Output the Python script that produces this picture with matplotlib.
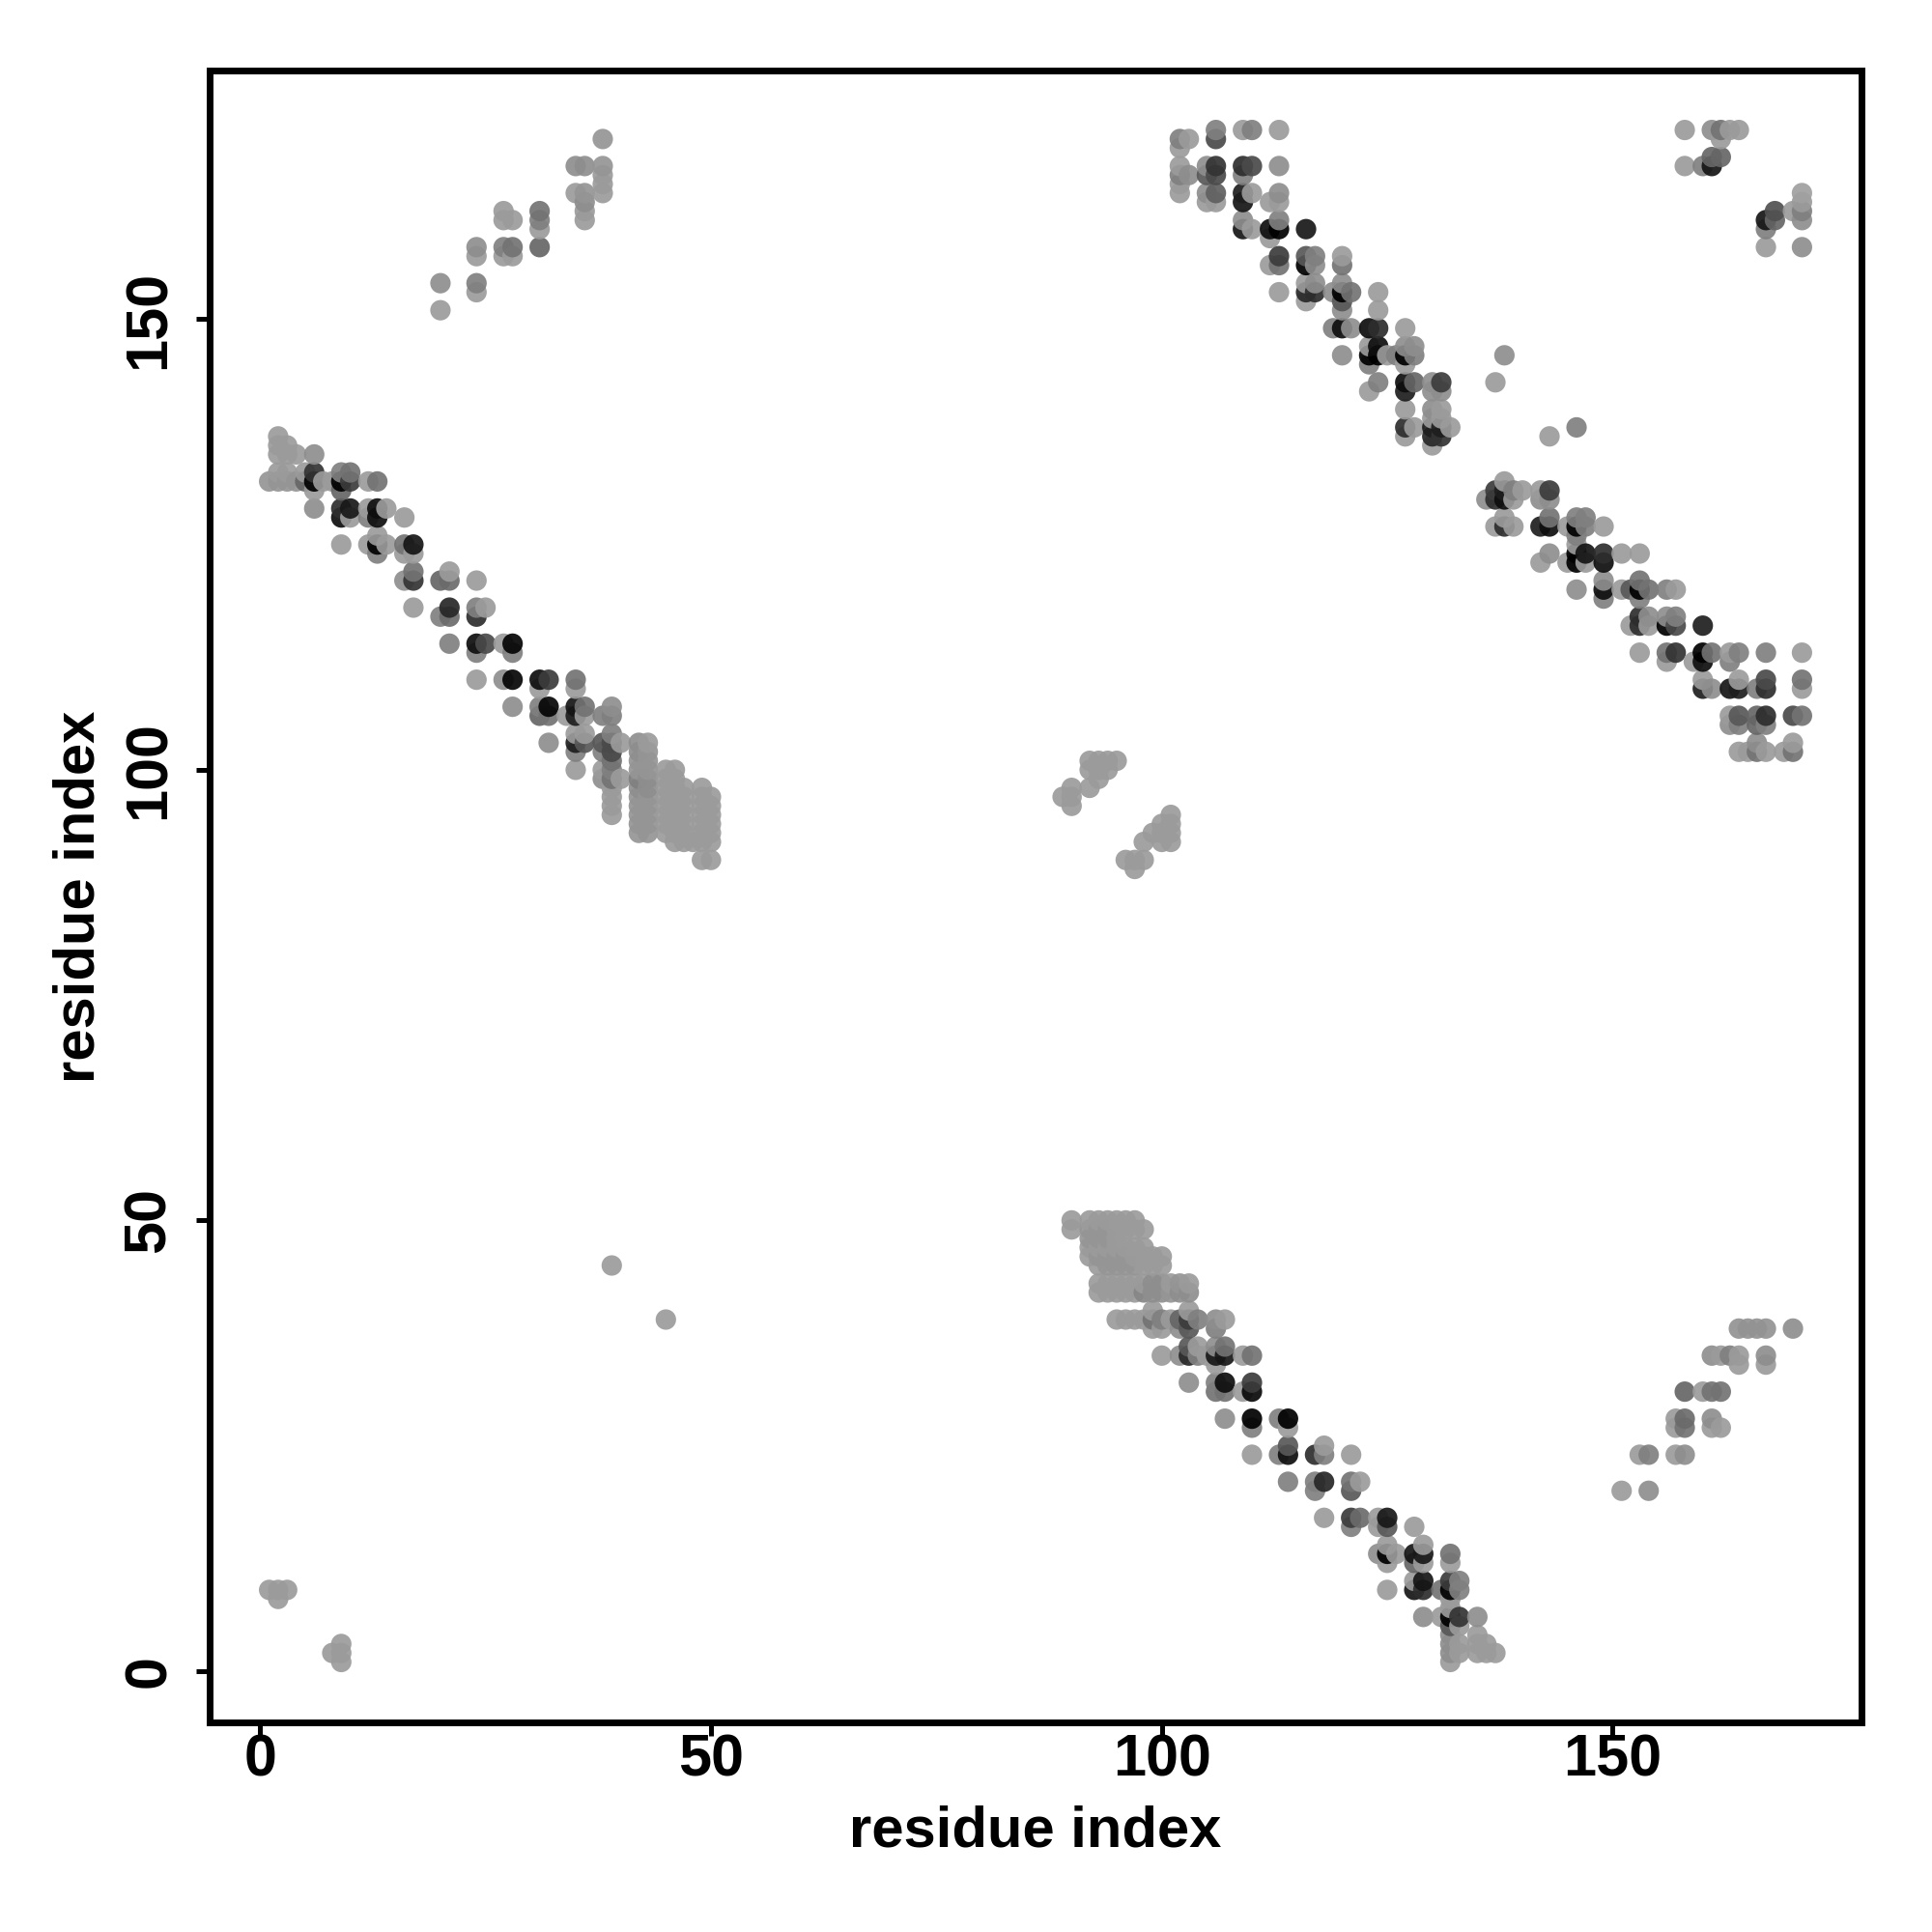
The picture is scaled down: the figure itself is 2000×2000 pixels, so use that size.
import numpy as np
import matplotlib
matplotlib.use("Agg")
import matplotlib.pyplot as plt

# each region: residue y of a row, residues x in that row, grey level of each contact
upper_left_y = [137,136,135,133,132,131,129,128,126,125,124,122,121,118,117,114,113,110,109,107,106,104,103,102,101,100,99,98,97,96,95,94,93,92,90]
upper_left_x = [
 [2],[2,3],[2,3,4,6],[2,3,5,6,9,10],[1,2,3,4,5,6,7,8,9,10,12,13],[6,9],[6,9,10,12,13,14],[9,10,12,13,16],[13],
 [9,12,13,14,16,17],[13,16,17],[17,21],[16,17,20,21,24],[17,21,24,25],[20,21,24],[21,24,25,27,28],[24,28],
 [24,27,28,31,32,35],[31,35],[28,31,32,35,36,39],[31,32,34,35,36,38,39],[35,36,39],[32,35,36,38,39,40,42,43],
 [35,38,39,42,43],[39,42,43],[35,38,39,42,43,45,46],[38,39,40,42,43,45,46],[39,42,43,45,46,47,49],
 [39,42,43,45,46,47,49,50],[39,42,43,45,46,47,49,50],[39,42,43,45,46,47,49,50],[42,43,45,46,47,49,50],
 [42,43,45,46,47,49,50],[46,47,48,49,50],[49,50]]
upper_left_g = [
 [.6],[.6,.6],[.6,.6,.6,.55],[.6,.6,.6,.22,.5,.45],[.58,.58,.58,.58,.4,.05,.6,.6,.03,.25,.6,.45],[.6,.4],
 [.55,.2,.13,.6,.1,.6],[.1,.6,.5,.1,.6],[.6],[.6,.6,.03,.6,.45,.12],[.5,.6,.6],[.45,.6],[.55,.22,.4,.42,.6],
 [.6,.18,.5,.6],[.5,.42,.2],[.5,.1,.3,.6,.07],[.5,.5],[.6,.55,.07,.1,.25,.45],[.6,.6],[.55,.5,.07,.12,.45,.55],
 [.4,.45,.6,.15,.6,.5,.5],[.6,.6,.5],[.55,.15,.35,.35,.3,.6,.55,.6],[.5,.5,.3,.55,.58],[.45,.58,.58],
 [.6,.6,.5,.58,.58,.6,.6],[.55,.45,.6,.5,.55,.6,.6],[.6,.55,.55,.6,.6,.6,.6],[.6,.58,.58,.6,.6,.6,.6,.6],
 [.6,.58,.58,.6,.6,.6,.6,.6],[.6,.58,.58,.6,.6,.6,.6,.6],[.58,.58,.6,.6,.6,.6,.6],[.58,.58,.6,.6,.6,.6,.6],
 [.6,.6,.6,.6,.6],[.6,.6]]

top_y = [171,170,169,167,166,165,164,163,161,160,159,157,156,154,153,152,151,149,147,146,145,143,142,140,139,138,137,136]
top_x = [
 [106,109,110,113],[102,103,106],[102],[102,105,106,109,110,113],[102,103,105,106,109],[102],[102,105,106,109,110,113],
 [105,106,109,112,113],[109,113],[109,110,112,113,116],[112],[113,116,117,120],[112,113,116,117,120],[116,117,120],
 [113,116,117,119,120,121,124],[116,120],[120,124],[119,120,121,123,124,127],[123,124,127,128],
 [120,123,124,125,126,127,128],[123,127],[124,127,128,130,131],[123,127,130,131],[127,130,131],[130,131],
 [127,128,130,131,132],[127,130,131],[130]]
top_g = [
 [.5,.6,.5,.6],[.5,.6,.3],[.6],[.6,.55,.22,.2,.3,.55],[.5,.55,.35,.3,.5],[.6],[.6,.55,.38,.15,.6,.55],
 [.6,.6,.12,.6,.6],[.55,.5],[.12,.6,.1,.02,.13],[.6],[.25,.35,.5,.6],[.6,.45,.05,.55,.45],[.6,.55,.55],
 [.6,.18,.2,.55,.02,.45,.6],[.6,.35],[.55,.6],[.5,.1,.55,.1,.2,.6],[.6,.1,.55,.55],[.55,.02,.05,.6,.5,.02,.5],
 [.5,.6],[.5,.1,.4,.55,.25],[.6,.15,.55,.55],[.6,.55,.6],[.6,.6],[.2,.6,.15,.15,.6],[.6,.18,.22],[.6]]

right_y = [146,143,138,137,132,131,130,128,127,126,125,124,123,121,120,119,117,116,113,112,110,109,106,105,103,102]
right_x = [
 [138],[137],[146],[143],[138],[137,138,139,140,142,143],[136,137,138,139,142,143],[138,143,146,147],
 [137,138,139,142,143,145,146,147,149],[146],[146],[143,146,147,149,151,153],[142,145,146,147,149],[149,153],
 [146,149,151,152,153,154,156,157],[149,153],[153,154,156,157],[152,153,154,156,157,160],
 [153,156,157,160,161,163,164,167,171],[156,159,160,163],[160,164,167,171],[160,161,163,164,166,167,171],
 [163,164,166,167,170,171],[163,164,166,167],[166,170],[164,165,166,167,169,170]]
right_g = [
 [.55],[.6],[.5],[.6],[.6],[.25,.15,.5,.6,.6,.25],[.55,.2,.1,.6,.55,.55],[.6,.45,.5,.5],
 [.6,.2,.6,.15,.1,.6,.02,.5,.6],[.5],[.6],[.55,.03,.12,.2,.6,.6],[.6,.6,.02,.6,.1],[.55,.45],
 [.55,.1,.6,.35,.02,.45,.5,.6],[.5,.5],[.2,.55,.55,.5],[.6,.2,.6,.05,.3,.15],
 [.6,.45,.22,.02,.45,.6,.5,.5,.6],[.6,.6,.1,.5],[.6,.6,.3,.45],[.15,.55,.12,.15,.5,.2,.6],
 [.6,.35,.4,.2,.3,.45],[.55,.5,.4,.5],[.55,.6],[.6,.6,.45,.6,.6,.45]]

lower_y = [50,49,48,47,46,45,43,42,40,39,38,36,35,34,32,31,28,27,25,24,21,20,17,16,14,13,12,10,9,8,7,6,5,4,3,2,1]
lower_x = [
 [90,92,93,94,95,96,97],[90,92,93,94,95,96,97,98],[92,93,94,95],[92,93,94,95,96,97,98],
 [92,93,94,95,96,97,98,99,100],[93,94,95,96,97,98,99,100],[93,94,95,96,97,98,99,100,101,102,103],
 [93,94,95,96,97,98,99,100,101,102,103],[99,103],[95,96,97,98,99,100,101,102,103,104,106,107],[99,100,102,103,106],
 [103,104,106,107],[100,102,103,104,105,106,107,109,110],[106],[103,106,107,110],[106,107,109,110],[107,110,113,114],
 [110,114],[114,118],[110,113,114,117,118,121],[114,117,118,121,122],[117,121],[118,121,122,124,125],[121,124,125,128],
 [125,129],[124,125,126,128,129,132],[125,128,129,132],[128,129,132,133],[125,128,129,131,132,133],[132],[132],
 [129,131,132,133,135],[132,133],[132,135],[132,133,135,136],[132,133,135,136,137],[132]]
lower_g = [
 [.6,.6,.6,.6,.6,.6,.6],[.6,.58,.58,.58,.6,.6,.6,.6],[.58,.58,.58,.6],[.6,.6,.6,.6,.6,.6,.6],
 [.6,.58,.58,.58,.58,.6,.6,.6,.6],[.6,.58,.58,.58,.58,.6,.6,.6],[.6,.6,.6,.6,.6,.6,.55,.55,.6,.58,.6],
 [.6,.6,.6,.6,.6,.52,.55,.55,.58,.55,.55],[.6,.6],[.6,.6,.6,.6,.45,.5,.6,.4,.25,.5,.55,.6],[.6,.6,.55,.35,.5],
 [.35,.6,.55,.45],[.6,.55,.18,.5,.6,.13,.13,.6,.45],[.6],[.55,.5,.1,.25],[.45,.45,.6,.08],[.55,.05,.5,.05],[.5,.6],
 [.35,.6],[.6,.5,.1,.2,.5,.6],[.5,.5,.18,.45,.6],[.5,.35],[.6,.25,.42,.6,.13],[.5,.6,.35,.6],[.6,.6],
 [.55,.05,.6,.12,.13,.45],[.6,.4,.6,.6],[.6,.12,.25,.5],[.6,.12,.2,.45,.03,.5],[.6],[.6],[.55,.6,.05,.22,.55],[.35,.6],
 [.55,.6],[.55,.6,.6,.6],[.55,.6,.6,.6,.6],[.6]]

lower_right_y = [38,35,34,31,28,27,24,20]
lower_right_x = [[164,165,166,167,170],[161,162,163,164,167],[164,167],[158,160,161,162],[157,158,161],[157,158,161,162],[153,154,157,158],[151,154]]
lower_right_g = [[.57,.57,.57,.57,.55],[.55,.6,.5,.6,.55],[.6,.6],[.4,.6,.45,.45],[.6,.42,.55],[.6,.45,.6,.6],[.6,.5,.6,.55],[.6,.55]]

upper_mid_y = [170,167,166,165,164,163,162,161,160,158,157,154,153,151]
upper_mid_x = [[38],[35,36,38],[38],[38],[35,36,38],[36],[27,31,36],[27,28,31,36],[31],[24,27,28,31],[24,27,28],[20,24],[24],[20]]
upper_mid_g = [[.58],[.55,.55,.58],[.6],[.6],[.6,.58,.6],[.55],[.6,.45,.6],[.6,.6,.5,.6],[.6],[.55,.5,.45,.4],[.6,.6,.6],[.55,.5],[.6],[.6]]

corner_y = [171,170,168,167,164,163,162,161,160,158]
corner_x = [[158,161,162,163,164],[162],[161,162],[158,160,161],[171],[171],[168,170,171],[167,168,171],[167],[167,171]]
corner_g = [[.6,.55,.45,.6,.6],[.6],[.4,.4],[.6,.5,.12],[.62],[.6],[.32,.6,.5],[.12,.4,.55],[.5],[.6,.55]]

centre_y = [101,100,99,98,97,96,95,94,93,92,90,89]
centre_x = [[92,93,94,95],[92,93,94],[93],[90,92],[89,90],[90],[101],[100,101],[99,100,101],[98,100,101],[96,97,98],[97]]
centre_g = [[.6,.6,.6,.6],[.6,.6,.6],[.6],[.6,.6],[.6,.6],[.6],[.6],[.6,.6],[.6,.6,.6],[.6,.6,.6],[.6,.6,.6],[.6]]

isolated_x = [1,2,3,2,8,9,9,9,39,45]
isolated_y = [9,9,9,8,2,3,2,1,45,39]
isolated_g = [.6,.6,.6,.6,.6,.6,.6,.6,.6,.6]

tick_values = [0, 50, 100, 150]
axis_label = "residue index"


def flatten(rows_y, rows_x, rows_g):
    xs, ys, gs = [], [], []
    for y, row_x, row_g in zip(rows_y, rows_x, rows_g):
        assert len(row_x) == len(row_g), (y, row_x, row_g)
        for x, g in zip(row_x, row_g):
            xs.append(x); ys.append(y); gs.append(g)
    return xs, ys, gs


xs, ys, gs = list(isolated_x), list(isolated_y), list(isolated_g)
for region in [(upper_left_y, upper_left_x, upper_left_g), (top_y, top_x, top_g), (right_y, right_x, right_g),
               (lower_y, lower_x, lower_g), (lower_right_y, lower_right_x, lower_right_g),
               (upper_mid_y, upper_mid_x, upper_mid_g), (corner_y, corner_x, corner_g), (centre_y, centre_x, centre_g)]:
    a, b, c = flatten(*region)
    xs += a; ys += b; gs += c
xs, ys, gs = np.array(xs), np.array(ys), np.array(gs)
order = np.lexsort((ys, xs))
xs, ys, gs = xs[order], ys[order], gs[order]

ALPHA = 0.92
levels = np.clip((gs ** 0.88 - (1 - ALPHA)) / ALPHA, 0, 1)
colors = [(v, v, v, ALPHA) for v in levels]

plt.rcParams['font.family'] = ['Liberation Sans', 'DejaVu Sans']
fig = plt.figure(figsize=(20, 20), dpi=100, facecolor='white')
ax = fig.add_axes([217/2000, 1 - 1783/2000, (1927-217)/2000, (1783-73)/2000])
ax.scatter(xs, ys, s=232, c=colors, linewidths=0, zorder=2)
ax.set_xlim(-5.6, 177.6)
ax.set_ylim(-5.7, 177.6)
ax.set_xticks(tick_values)
ax.set_yticks(tick_values)
ax.set_xticklabels([str(t) for t in tick_values], fontsize=44, fontweight='bold')
ax.set_yticklabels([str(t) for t in tick_values], fontsize=44, fontweight='bold',
                   rotation=90, va='center')
ax.tick_params(axis='x', length=10, width=3.6, pad=-2, color='black')
ax.tick_params(axis='y', length=10, width=3.6, pad=14, color='black')
for s in ax.spines.values():
    s.set_linewidth(5)
fig.text((217+1927)/4000, 1 - 1896/2000, axis_label, fontsize=43, fontweight='bold', ha='center', va='center')
fig.text(82/2000, 1 - 928/2000, axis_label, fontsize=43, fontweight='bold', rotation=90, ha='center', va='center')
fig.savefig('out.png', dpi=100)
